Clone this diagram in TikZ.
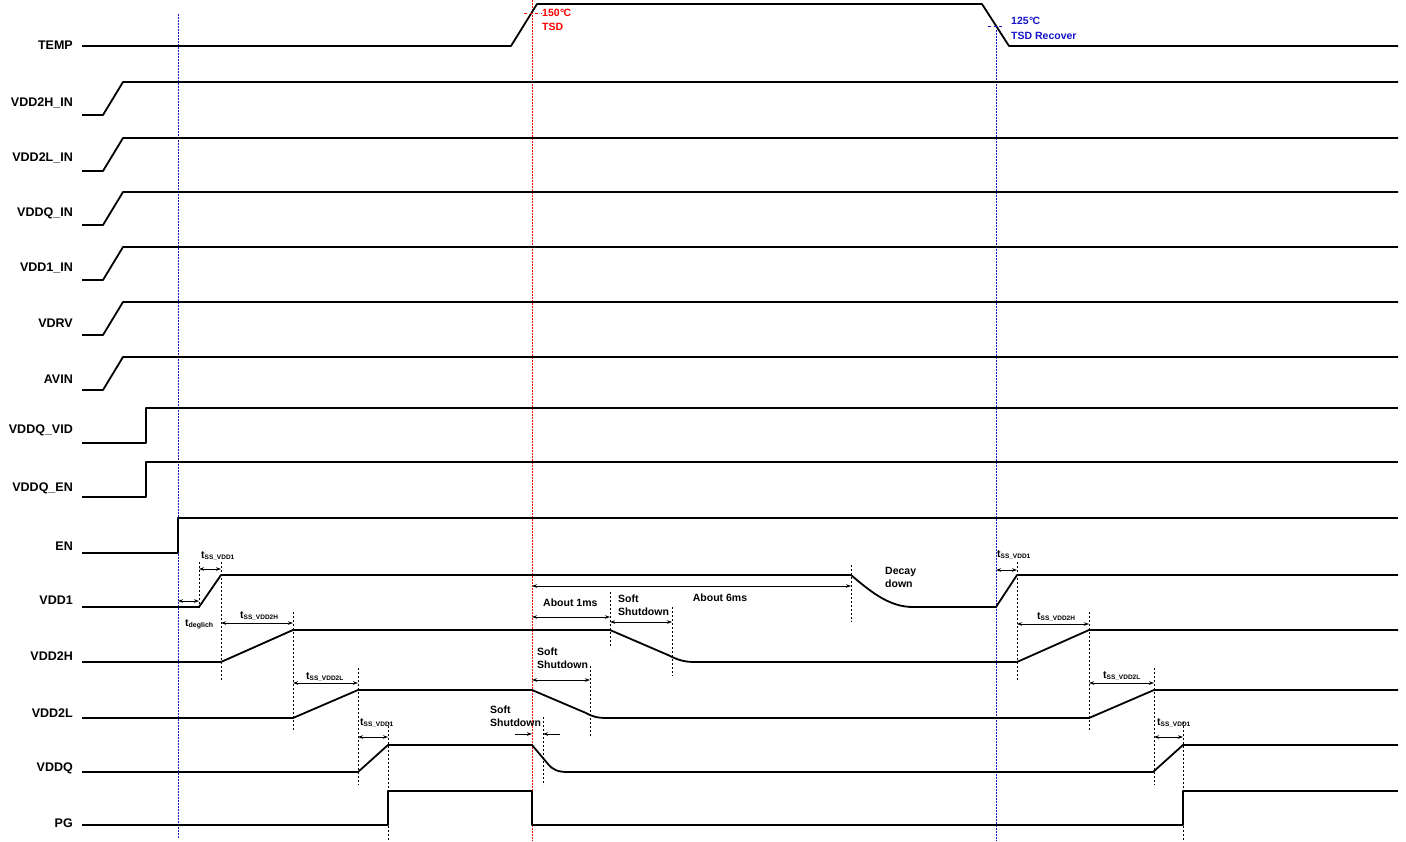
\documentclass[tikz,border=0pt]{standalone}
\usepackage{fontspec}
\setmainfont{Liberation Sans}
\usetikzlibrary{arrows.meta}
\definecolor{tsdred}{RGB}{255,0,0}
\definecolor{tsdblue}{RGB}{20,20,200}
\newcommand\tsubs[1]{t\raisebox{-1.6pt}{\fontsize{6.5}{7}\selectfont #1}}
\begin{document}
\begin{tikzpicture}[x=1pt,y=-1pt,
  sig/.style={line width=1.8pt, line join=round},
  lab/.style={anchor=east, font=\fontsize{12.5}{14}\selectfont\bfseries, inner sep=0pt},
  ann/.style={font=\fontsize{10.5}{13}\selectfont\bfseries, inner sep=0pt, align=left},
  tlab/.style={anchor=base west, font=\fontsize{10.5}{12}\selectfont\bfseries, inner sep=0pt},
  guide/.style={dash pattern=on 2pt off 2pt, line width=0.8pt},
  vblue/.style={tsdblue, dash pattern=on 1.5pt off 1.5pt, line width=1pt},
  vred/.style={tsdred, dash pattern=on 1.5pt off 1.5pt, line width=1pt},
  dimarrow/.style={<->, >={Stealth[length=5pt,width=3.5pt]}, line width=0.8pt},
  onearrow/.style={->, >={Stealth[length=5pt,width=3.5pt]}, line width=0.8pt}]
\useasboundingbox (0,0) rectangle (1406,841);

% ---- signal labels
\node[lab] (lTEMP) at (73,45) {TEMP};
\node[lab] (lVDD2HIN) at (73,103) {VDD2H\_IN};
\node[lab] (lVDD2LIN) at (73,158) {VDD2L\_IN};
\node[lab] (lVDDQIN) at (73,213) {VDDQ\_IN};
\node[lab] (lVDD1IN) at (73,268) {VDD1\_IN};
\node[lab] (lVDRV) at (73,323) {VDRV};
\node[lab] (lAVIN) at (73,379) {AVIN};
\node[lab] (lVDDQVID) at (73,430) {VDDQ\_VID};
\node[lab] (lVDDQEN) at (73,488) {VDDQ\_EN};
\node[lab] (lEN) at (73,546) {EN};
\node[lab] (lVDD1) at (73,600) {VDD1};
\node[lab] (lVDD2H) at (73,656) {VDD2H};
\node[lab] (lVDD2L) at (73,713) {VDD2L};
\node[lab] (lVDDQ) at (73,768) {VDDQ};
\node[lab] (lPG) at (73,823) {PG};

% ---- vertical reference lines
\draw[vblue] (178,14) -- (178,838);
\draw[vred] (532,0) -- (532,841);
\draw[vblue] (996,30) -- (996,841);

% ---- signals
\draw[sig] (82,46) -- (511,46) -- (537,4) -- (982,4) -- (1009,46) -- (1398,46);
\foreach \h in {82,138,192,247,302,357}{
  \draw[sig] (82,\h+33) -- (103,\h+33) -- (123,\h) -- (1398,\h);
}
\draw[sig] (82,443) -- (146,443) -- (146,408) -- (1398,408);
\draw[sig] (82,497) -- (146,497) -- (146,462) -- (1398,462);
\draw[sig] (82,553) -- (178,553) -- (178,518) -- (1398,518);
% VDD1
\draw[sig] (82,607) -- (199,607) -- (221,575) -- (851,575)
  .. controls (872,593) and (890,607) .. (913,607) -- (996,607) -- (1017,575) -- (1398,575);
% VDD2H
\draw[sig] (82,662) -- (221,662) -- (293,630) -- (610,630) -- (668,655)
  .. controls (678,660) and (684,662) .. (695,662) -- (1017,662) -- (1089,630) -- (1398,630);
% VDD2L
\draw[sig] (82,718) -- (293,718) -- (358,690) -- (532,690) -- (586,713)
  .. controls (593,717) and (598,718) .. (608,718) -- (1089,718) -- (1154,690) -- (1398,690);
% VDDQ
\draw[sig] (82,772) -- (358,772) -- (388,745) -- (532,745) -- (548,764)
  .. controls (553,770) and (558,772) .. (568,772) -- (1153,772) -- (1183,745) -- (1398,745);
% PG
\draw[sig] (82,825) -- (388,825) -- (388,791) -- (532,791) -- (532,825) -- (1183,825) -- (1183,791) -- (1398,791);

% ---- temperature annotations
\draw[tsdred, dash pattern=on 3pt off 2.5pt, line width=1pt] (524,13) -- (541,13);
\node[ann, text=tsdred, anchor=west] (t150) at (542,13) {150\kern0.3pt°\kern-0.6pt C};
\node[ann, text=tsdred, anchor=west] (tTSD) at (542,27) {TSD};
\draw[tsdblue, dash pattern=on 3pt off 2.5pt, line width=1pt] (988,26) -- (1003,26);
\node[ann, text=tsdblue, anchor=west] (t125) at (1011,21) {125\kern0.3pt°\kern-0.6pt C};
\node[ann, text=tsdblue, anchor=west] (tRec) at (1011,36) {TSD Recover};

% ---- guide (dashed) verticals
\draw[guide] (199,562) -- (199,608);
\draw[guide] (221,562) -- (221,680);
\draw[guide] (293,612) -- (293,730);
\draw[guide] (358,668) -- (358,785);
\draw[guide] (388,722) -- (388,841);
\draw[guide] (610,592) -- (610,648);
\draw[guide] (672,607) -- (672,676);
\draw[guide] (590,666) -- (590,736);
\draw[guide] (543,717) -- (543,785);
\draw[guide] (851,565) -- (851,622);
\draw[guide] (1017,562) -- (1017,680);
\draw[guide] (1089,612) -- (1089,730);
\draw[guide] (1154,668) -- (1154,785);
\draw[guide] (1183,722) -- (1183,841);

% ---- dimension arrows and labels (left part)
\draw[dimarrow] (178,601) -- (199,601);
\node[tlab] (tdeg) at (185,626) {t\raisebox{-1.6pt}{\fontsize{7}{8}\selectfont deglich}};
\draw[dimarrow] (199,569) -- (221,569);
\node[tlab] (tss1a) at (201,558) {\tsubs{SS\_VDD1}};
\draw[dimarrow] (221,623) -- (293,623);
\node[tlab] (tss2ha) at (240,618) {\tsubs{SS\_VDD2H}};
\draw[dimarrow] (293,683) -- (358,683);
\node[tlab] (tss2la) at (306,679) {\tsubs{SS\_VDD2L}};
\draw[dimarrow] (358,737) -- (388,737);
\node[tlab] (tss1b) at (360,725) {\tsubs{SS\_VDD1}};

% ---- shutdown annotations
\draw[dimarrow] (532,617) -- (610,617);
\node[ann, anchor=west] (a1ms) at (543,603) {About 1ms};
\draw[dimarrow] (532,586) -- (851,586);
\node[ann] (a6ms) at (720,598) {About 6ms};
\draw[dimarrow] (610,622) -- (672,622);
\node[ann, anchor=north west] (ss1) at (618,595) {Soft\\Shutdown};
\node[ann, anchor=north west] (dd) at (885,567) {Decay\\down};
\draw[dimarrow] (532,680) -- (590,680);
\node[ann, anchor=north west] (ss2) at (537,648) {Soft\\Shutdown};
\node[ann, anchor=north west] (ss3) at (490,706) {Soft\\Shutdown};
\draw[onearrow] (515,734) -- (532,734);
\draw[onearrow] (560,734) -- (543,734);

% ---- dimension arrows and labels (right part)
\draw[dimarrow] (996,570) -- (1017,570);
\node[tlab] (tss1c) at (997,557) {\tsubs{SS\_VDD1}};
\draw[dimarrow] (1017,624) -- (1089,624);
\node[tlab] (tss2hb) at (1037,619) {\tsubs{SS\_VDD2H}};
\draw[dimarrow] (1089,683) -- (1154,683);
\node[tlab] (tss2lb) at (1103,678) {\tsubs{SS\_VDD2L}};
\draw[dimarrow] (1154,737) -- (1183,737);
\node[tlab] (tss1d) at (1157,725) {\tsubs{SS\_VDD1}};
\end{tikzpicture}
\end{document}
